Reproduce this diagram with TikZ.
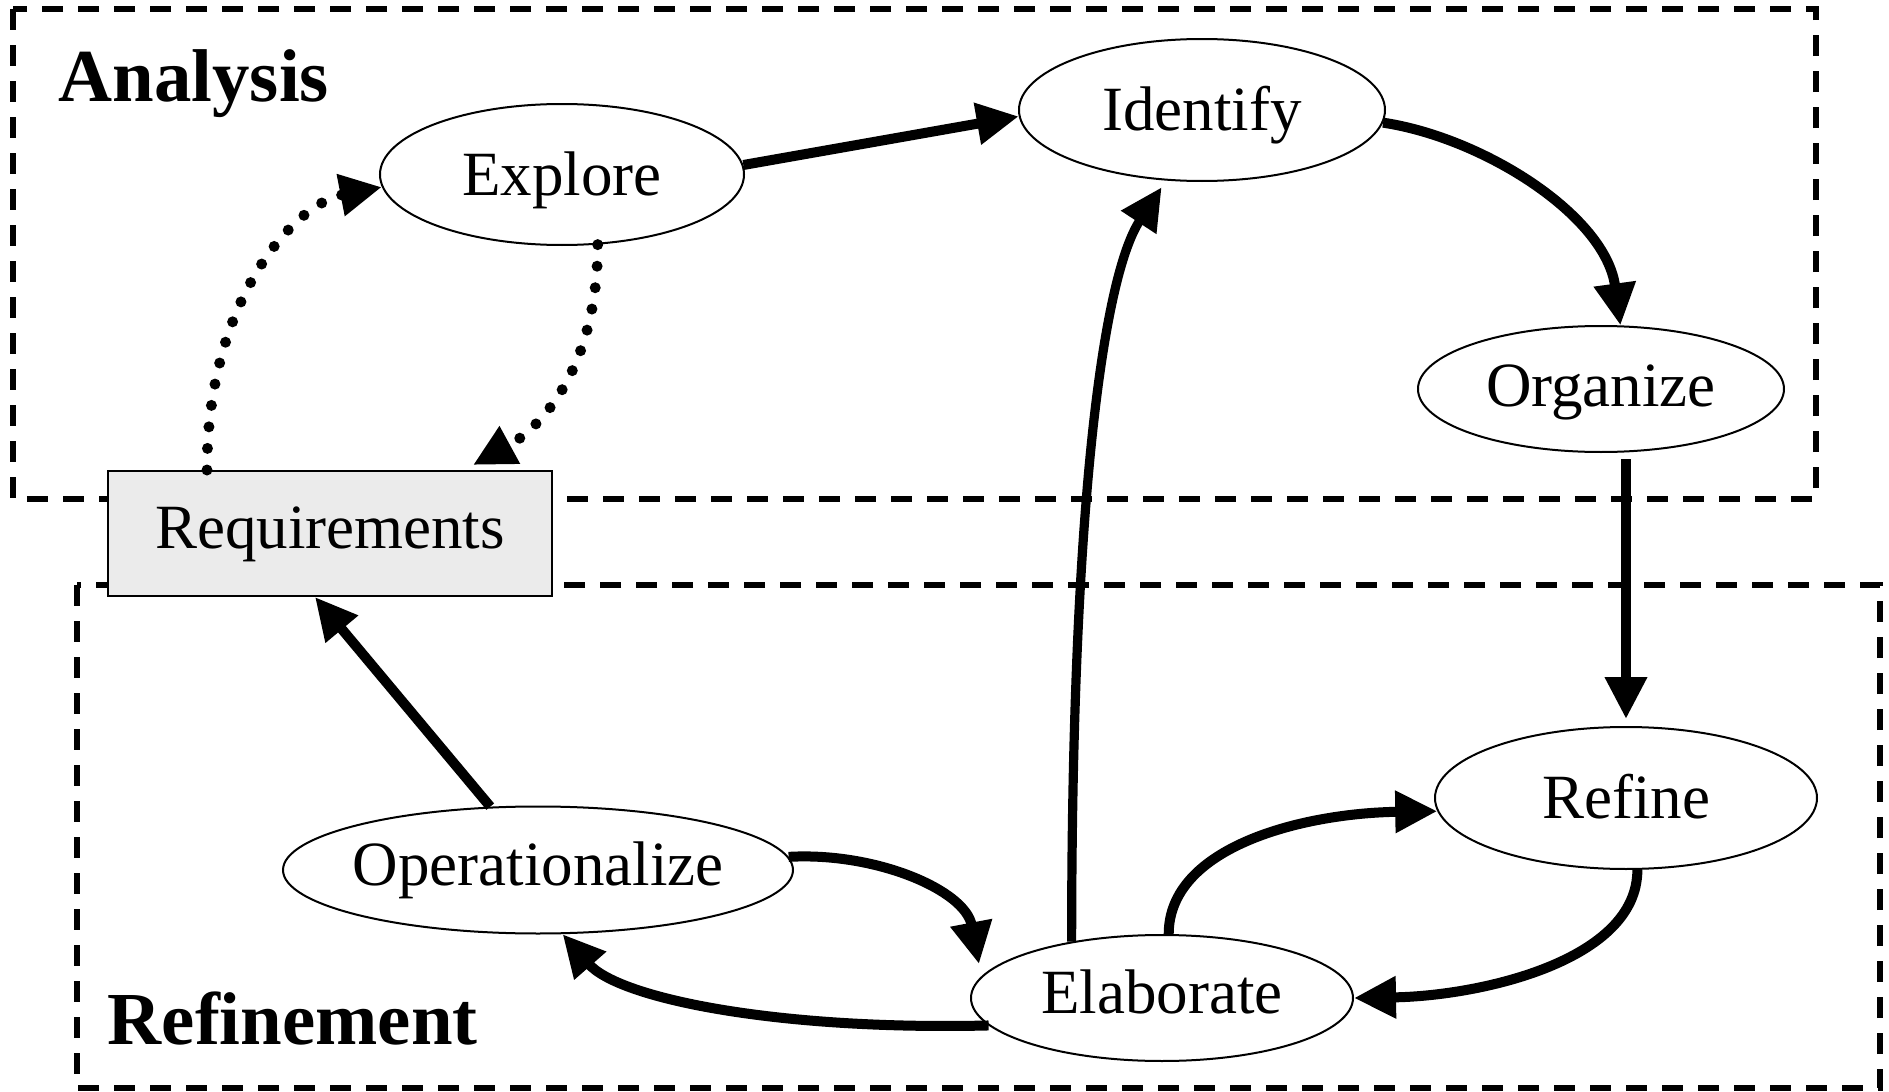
\documentclass[tikz,border=0pt]{standalone}
\usepackage{fontspec}
\setmainfont{Liberation Serif}
\usetikzlibrary{arrows.meta,calc,shapes.geometric}

\begin{document}
\begin{tikzpicture}[x=0.25pt,y=0.25pt,yscale=-1,xscale=1,
    stage/.style={draw,ellipse,line width=0.5pt,fill=white,inner xsep=-4pt,inner ysep=0pt,
      font=\fontsize{15.75}{18}\selectfont,text height=10.4pt,text depth=0pt},
    store/.style={draw,rectangle,line width=0.5pt,fill=black!8,inner sep=0pt,
      font=\fontsize{15.75}{18}\selectfont,text height=7.4pt,text depth=0pt},
    flow/.style={line width=2.5pt,-{Triangle[length=10.5pt,width=10pt]}},
    dotflow/.style={line width=2.75pt,line cap=round,dash pattern=on 0pt off 5.4pt,
      -{Triangle[length=10.5pt,width=10pt]}},
    frame/.style={line width=1.5pt,dash pattern=on 5.25pt off 3.75pt},
    phase/.style={anchor=base west,inner sep=0pt,font=\fontsize{18.7}{22}\selectfont\bfseries}]
  \useasboundingbox (0,0) rectangle (1889,1092);

  % the two phases
  \draw [frame] (13,9) rectangle (1816,499);
  \draw [frame] (77,585) rectangle (1880,1088);
  \node [phase] (analysis) at (58,101) {Analysis};
  \node [phase] (refinement) at (107,1044) {Refinement};

  % activities
  \node [stage,minimum width=91pt,minimum height=35.25pt] (explore) at (562,174.5) {Explore};
  \node [stage,minimum width=91.5pt,minimum height=35.5pt] (identify) at (1202,110) {Identify};
  \node [stage,minimum width=91.5pt,minimum height=31.5pt,text height=8.6pt] (organize) at (1601,389) {Organize};
  \node [stage,minimum width=95.5pt,minimum height=35.5pt] (refine) at (1626,798) {Refine};
  \node [stage,minimum width=95.5pt,minimum height=31.5pt,text height=7.6pt] (elaborate) at (1162,998) {Elaborate};
  \node [stage,minimum width=127.5pt,minimum height=31.75pt,text height=7.6pt] (operationalize) at (538,870) {Operationalize};
  \node [store,minimum width=111pt,minimum height=31.25pt] (req) at (330,533.5) {Requirements};

  % analysis loop
  \draw [dotflow] ($(req.north west)+(100,0)$) .. controls +(0,-170) and +(-88,17) .. (explore.184);
  \draw [dotflow] (explore.-63) .. controls +(0,125) and +(66,-36) .. ($(req.north west)+(366,-5)$);
  \draw [flow] (explore.3) -- (identify.182);
  \draw [flow] (identify.-4) .. controls +(100,15) and +(-15,-110) .. (organize.73);
  \draw [flow,shorten <=1.5pt,shorten >=1.75pt] (organize.south -| refine.north) -- (refine.north);

  % refinement loop
  \draw [flow] (refine.-81) .. controls +(0,91) and +(126,-2) .. (elaborate.east);
  \draw [flow] (elaborate.84) .. controls +(0,-87) and +(-135,2) .. (refine.184);
  \draw [flow,line width=2.3pt,shorten >=2pt] (elaborate.148) .. controls +(0,-437) and +(-63,96) .. (identify.243);
  \draw [flow] (operationalize.3) .. controls +(87,-5) and +(-14,-74) .. ($(elaborate.center)+(-183,-34)$);
  \draw [flow] (elaborate.189) .. controls +(-208,5) and +(57,65) .. (operationalize.-69);
  \draw [flow] (operationalize.127) -- ($(req.south west)+(208,0)$);
\end{tikzpicture}
\end{document}
